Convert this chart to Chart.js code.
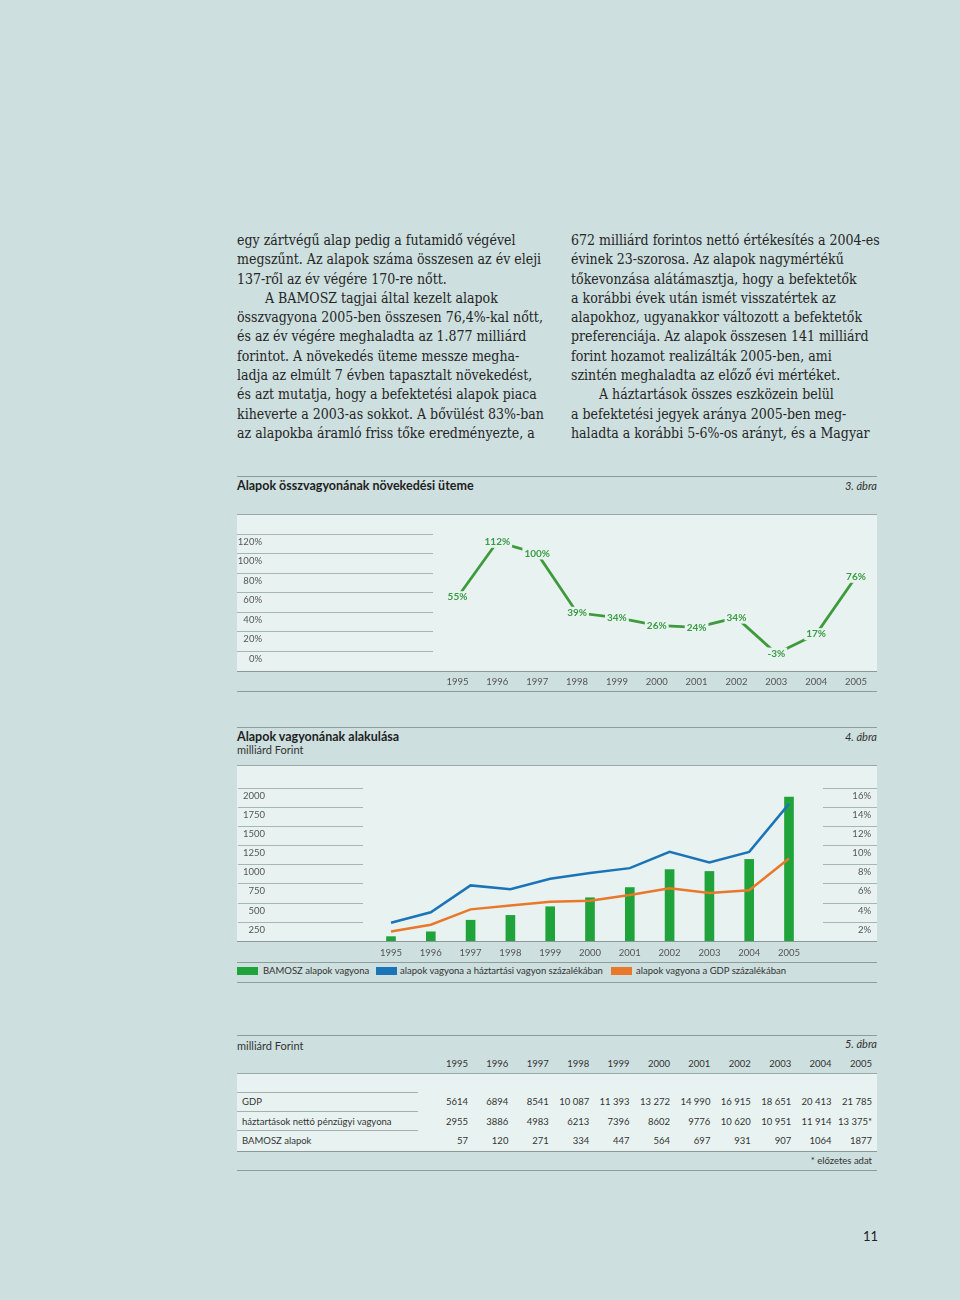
<!DOCTYPE html>
<html lang="hu">
<head>
<meta charset="utf-8">
<script src="https://cdn.jsdelivr.net/npm/chart.js@4.4.1/dist/chart.umd.min.js"></script>
<style>
  body { margin: 0; width: 960px; height: 1300px; position: relative; background: #cddfde; color: #3a3a3a;
         font-family: Lato, sans-serif; overflow: hidden; }
  .abs { position: absolute; white-space: nowrap; }
  .col { position: absolute; top: 231px; font-family: "DejaVu Serif", serif; font-stretch: condensed;
         font-size: 14px; line-height: 19.3px; white-space: nowrap; color: #262626; }
  .col .ind { padding-left: 28px; }
  .rule { position: absolute; left: 237px; width: 640px; height: 0; border-top: 1px solid #8e9d9c; }
  .title { position: absolute; left: 237px; font-weight: bold; font-size: 12.5px; line-height: 16px; color: #1e1e1e; }
  .sub { position: absolute; left: 237px; font-size: 11px; line-height: 14px; color: #333; }
  .fig { position: absolute; right: 83px; font-style: italic; font-size: 11px; line-height: 14px; color: #333; }
  .panel { position: absolute; left: 237px; width: 640px; background: #e8f3f1; border-top: 1px solid #9aa8a7; border-bottom: 1px solid #8a9897; box-sizing: border-box; }
  .box { position: absolute; left: 237px; width: 640px; }
  .leg { position: absolute; top: 964px; font-size: 9.5px; line-height: 14px; color: #333; }
  .sw { position: absolute; top: 967px; width: 21px; height: 8px; }
  .cell { position: absolute; width: 60px; text-align: right; font-size: 9.5px; line-height: 14px; color: #333; }
  .lab { position: absolute; left: 242px; font-size: 9.5px; line-height: 14px; color: #333; }
  .short { position: absolute; left: 237px; width: 181px; border-top: 1px solid #a3b1b0; }
</style>
</head>
<body>

<div class="col" style="left:237px">
egy zártvégű alap pedig a futamidő végével<br>
megszűnt. Az alapok száma összesen az év eleji<br>
137-ről az év végére 170-re nőtt.<br>
<span class="ind">A BAMOSZ tagjai által kezelt alapok</span><br>
összvagyona 2005-ben összesen 76,4%-kal nőtt,<br>
és az év végére meghaladta az 1.877 milliárd<br>
forintot. A növekedés üteme messze megha-<br>
ladja az elmúlt 7 évben tapasztalt növekedést,<br>
és azt mutatja, hogy a befektetési alapok piaca<br>
kiheverte a 2003-as sokkot. A bővülést 83%-ban<br>
az alapokba áramló friss tőke eredményezte, a
</div>
<div class="col" style="left:571px">
672 milliárd forintos nettó értékesítés a 2004-es<br>
évinek 23-szorosa. Az alapok nagymértékű<br>
tőkevonzása alátámasztja, hogy a befektetők<br>
a korábbi évek után ismét visszatértek az<br>
alapokhoz, ugyanakkor változott a befektetők<br>
preferenciája. Az alapok összesen 141 milliárd<br>
forint hozamot realizálták 2005-ben, ami<br>
szintén meghaladta az előző évi mértéket.<br>
<span class="ind">A háztartások összes eszközein belül</span><br>
a befektetési jegyek aránya 2005-ben meg-<br>
haladta a korábbi 5-6%-os arányt, és a Magyar
</div>

<!-- 3. ábra -->
<div class="rule" style="top:476px"></div>
<div class="title" style="top:478px">Alapok összvagyonának növekedési üteme</div>
<div class="fig" style="top:479px">3. ábra</div>
<div class="panel" style="top:514px;height:158px"></div>
<div class="box" style="top:514px;height:178px"><canvas id="chartNovekedes"></canvas></div>
<div class="rule" style="top:691px"></div>

<!-- 4. ábra -->
<div class="rule" style="top:727px"></div>
<div class="title" style="top:729px">Alapok vagyonának alakulása</div>
<div class="sub" style="top:743px">milliárd Forint</div>
<div class="fig" style="top:730px">4. ábra</div>
<div class="panel" style="top:765px;height:177px"></div>
<div class="box" style="top:765px;height:197px"><canvas id="chartVagyon"></canvas></div>
<div class="rule" style="top:962px"></div>
<div class="sw" style="left:237px;background:#21a33b"></div>
<div class="leg" style="left:263px">BAMOSZ alapok vagyona</div>
<div class="sw" style="left:376px;background:#1b74b8"></div>
<div class="leg" style="left:400px">alapok vagyona a háztartási vagyon százalékában</div>
<div class="sw" style="left:611px;background:#e9782a"></div>
<div class="leg" style="left:636px">alapok vagyona a GDP százalékában</div>
<div class="rule" style="top:982px"></div>

<!-- 5. ábra -->
<div class="rule" style="top:1035px"></div>
<div class="sub" style="top:1039px">milliárd Forint</div>
<div class="fig" style="top:1037px">5. ábra</div>
<div class="panel" style="top:1073px;height:79px"></div>
<div class="short" style="top:1092px"></div>
<div class="short" style="top:1111px"></div>
<div class="short" style="top:1130px"></div>
<div id="tabla"></div>
<div class="abs" style="top:1154px;right:88px;font-size:9.5px;line-height:14px;color:#333">* előzetes adat</div>
<div class="rule" style="top:1170px"></div>

<div class="abs" style="top:1228px;left:863px;font-size:13px;line-height:16px;color:#222">11</div>

<script>
const SANS = 'Lato, sans-serif';
const PANEL = '#e8f3f1';

// közös évek
const years = [1995, 1996, 1997, 1998, 1999, 2000, 2001, 2002, 2003, 2004, 2005];

// 3. ábra - növekedési ütem (%)
const growth = [55, 112, 100, 39, 34, 26, 24, 34, -3, 17, 76];
const growthTicks = [0, 20, 40, 60, 80, 100, 120];

// 4. ábra
const bamosz = [57, 120, 271, 334, 447, 564, 697, 931, 907, 1064, 1877];
const householdPct = [1.9, 3.0, 5.8, 5.4, 6.5, 7.1, 7.6, 9.3, 8.2, 9.3, 14.3];
const gdpPct = [1.0, 1.7, 3.3, 3.7, 4.1, 4.2, 4.8, 5.5, 5.0, 5.3, 8.6];
const forintTicks = [250, 500, 750, 1000, 1250, 1500, 1750, 2000];
const pctTicks = [2, 4, 6, 8, 10, 12, 14, 16];

// 5. ábra - táblázat
const rowLabels = ["GDP", "háztartások nettó pénzügyi vagyona", "BAMOSZ alapok"];
const gdpRow = ["5614", "6894", "8541", "10 087", "11 393", "13 272", "14 990", "16 915", "18 651", "20 413", "21 785"];
const householdRow = ["2955", "3886", "4983", "6213", "7396", "8602", "9776", "10 620", "10 951", "11 914", "13 375*"];
const bamoszRow = ["57", "120", "271", "334", "447", "564", "697", "931", "907", "1064", "1877"];

Chart.defaults.font.family = SANS;
Chart.defaults.color = '#555';

function yearAxis(min, max, pad) {
  return {
    type: 'linear', min: min, max: max, offset: false,
    afterBuildTicks: (s) => { s.ticks = years.map(v => ({ value: v })); },
    afterFit: (s) => { s.height = pad.h; },
    grid: { display: false, drawTicks: false, offset: false },
    border: { display: false },
    ticks: { font: { size: 9.5 }, color: '#555', padding: pad.p, callback: (v) => String(v) }
  };
}

// ======================
// 3. ábra
// ======================
const gridNovekedes = {
  id: 'gridNovekedes',
  beforeDatasetsDraw(chart) {
    const { ctx, chartArea: a, scales: { y } } = chart;
    ctx.save();
    ctx.strokeStyle = '#a7b5b3';
    ctx.lineWidth = 1;
    ctx.fillStyle = '#555';
    ctx.font = '9.5px ' + SANS;
    ctx.textAlign = 'right';
    ctx.textBaseline = 'middle';
    growthTicks.forEach((v) => {
      const py = Math.round(y.getPixelForValue(v)) + 0.5;
      ctx.beginPath();
      ctx.moveTo(a.left, py);
      ctx.lineTo(a.left + 196, py);
      ctx.stroke();
      ctx.fillText(v + '%', a.left + 25, py + 7.5);
    });
    ctx.restore();
  },
  afterDatasetsDraw(chart) {
    const { ctx } = chart;
    const meta = chart.getDatasetMeta(0);
    ctx.save();
    ctx.font = 'bold 10px ' + SANS;
    ctx.textAlign = 'center';
    ctx.textBaseline = 'middle';
    meta.data.forEach((pt, i) => {
      const t = growth[i] + '%';
      const w = ctx.measureText(t).width;
      ctx.fillStyle = PANEL;
      ctx.fillRect(pt.x - w / 2 - 2, pt.y - 6, w + 4, 12);
      ctx.fillStyle = '#3a9b43';
      ctx.fillText(t, pt.x, pt.y);
    });
    ctx.restore();
  }
};

new Chart(document.getElementById('chartNovekedes'), {
  type: 'line',
  data: {
    datasets: [{
      data: years.map((yr, i) => ({ x: yr, y: growth[i] })),
      borderColor: '#3e9a3c',
      borderWidth: 2.8,
      pointRadius: 0,
      tension: 0
    }]
  },
  options: {
    responsive: true, maintainAspectRatio: false, animation: false, events: [],
    layout: { padding: 0 },
    plugins: { legend: { display: false }, tooltip: { enabled: false } },
    scales: {
      x: yearAxis(1989.467, 2005.527, { h: 21, p: 5 }),
      y: { display: false, min: -20.9, max: 140.6 }
    }
  },
  plugins: [gridNovekedes]
});

// ======================
// 4. ábra
// ======================
const gridVagyon = {
  id: 'gridVagyon',
  beforeDatasetsDraw(chart) {
    const { ctx, chartArea: a, scales: { y, y1 } } = chart;
    ctx.save();
    ctx.strokeStyle = '#a7b5b3';
    ctx.lineWidth = 1;
    ctx.fillStyle = '#555';
    ctx.font = '9.5px ' + SANS;
    ctx.textAlign = 'right';
    ctx.textBaseline = 'middle';
    forintTicks.forEach((v) => {
      const py = Math.round(y.getPixelForValue(v)) + 0.5;
      ctx.beginPath();
      ctx.moveTo(a.left + 1, py);
      ctx.lineTo(a.left + 126, py);
      ctx.stroke();
      ctx.fillText(String(v), a.left + 28, py + 7);
    });
    pctTicks.forEach((v) => {
      const py = Math.round(y1.getPixelForValue(v)) + 0.5;
      ctx.beginPath();
      ctx.moveTo(a.right - 54, py);
      ctx.lineTo(a.right, py);
      ctx.stroke();
      ctx.fillText(v + '%', a.right - 6, py + 7);
    });
    ctx.restore();
  }
};

new Chart(document.getElementById('chartVagyon'), {
  data: {
    datasets: [
      {
        type: 'line',
        label: 'alapok vagyona a háztartási vagyon százalékában',
        data: years.map((yr, i) => ({ x: yr, y: householdPct[i] })),
        yAxisID: 'y1',
        borderColor: '#1b74b8',
        borderWidth: 2.5,
        pointRadius: 0,
        tension: 0,
        order: 0
      },
      {
        type: 'line',
        label: 'alapok vagyona a GDP százalékában',
        data: years.map((yr, i) => ({ x: yr, y: gdpPct[i] })),
        yAxisID: 'y1',
        borderColor: '#e9782a',
        borderWidth: 2.5,
        pointRadius: 0,
        tension: 0,
        order: 0
      },
      {
        type: 'bar',
        label: 'BAMOSZ alapok vagyona',
        data: years.map((yr, i) => ({ x: yr, y: bamosz[i] })),
        yAxisID: 'y',
        backgroundColor: '#21a33b',
        barThickness: 9,
        order: 1
      }
    ]
  },
  options: {
    responsive: true, maintainAspectRatio: false, animation: false, events: [],
    layout: { padding: 0 },
    plugins: { legend: { display: false }, tooltip: { enabled: false } },
    scales: {
      x: yearAxis(1991.131, 2007.211, { h: 21, p: 6 }),
      y: { display: false, min: 0, max: 2295 },
      y1: { display: false, min: 0, max: 18.36, position: 'right' }
    }
  },
  plugins: [gridVagyon]
});

// ======================
// 5. ábra - táblázat
// ======================
const tabla = document.getElementById('tabla');
function colRight(i) { return 468 + 40.4 * i; }
function addCell(text, i, center) {
  const d = document.createElement('div');
  d.className = 'cell';
  d.style.left = (colRight(i) - 60) + 'px';
  d.style.top = (center - 7) + 'px';
  d.textContent = text.replace(' ', '\u00a0');
  tabla.appendChild(d);
}
years.forEach((yr, i) => addCell(String(yr), i, 1064));
[gdpRow, householdRow, bamoszRow].forEach((row, r) => {
  const center = [1102, 1121.5, 1141][r];
  const l = document.createElement('div');
  l.className = 'lab';
  l.style.top = (center - 7) + 'px';
  l.textContent = rowLabels[r];
  tabla.appendChild(l);
  row.forEach((v, i) => addCell(v, i, center));
});
</script>
</body>
</html>
